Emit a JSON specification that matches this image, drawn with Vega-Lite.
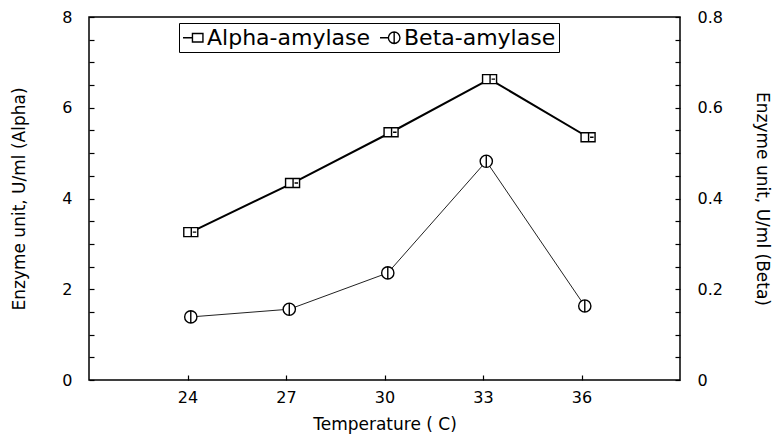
{
  "$schema": "https://vega.github.io/schema/vega-lite/v6.json",
  "width": 591,
  "height": 363,
  "autosize": {"type": "none"},
  "padding": {"left": 89, "top": 17, "right": 97, "bottom": 55},
  "background": "white",
  "config": {
    "font": "DejaVu Sans",
    "view": {"stroke": "black", "strokeWidth": 1.5},
    "axis": {"grid": false, "ticks": true, "zindex": 1, "tickColor": "black", "domainColor": "black", "tickWidth": 1.2, "labelColor": "black", "titleColor": "black", "labelFontSize": 16, "titleFontSize": 17, "titleFontWeight": "normal"}
  },
  "data": {"values": [
    {"temp": 24.1, "value": 3.26, "series": "Alpha-amylase"},
    {"temp": 27.2, "value": 4.34, "series": "Alpha-amylase"},
    {"temp": 30.2, "value": 5.46, "series": "Alpha-amylase"},
    {"temp": 33.2, "value": 6.63, "series": "Alpha-amylase"},
    {"temp": 36.2, "value": 5.35, "series": "Alpha-amylase"},
    {"temp": 24.1, "value": 0.139, "series": "Beta-amylase"},
    {"temp": 27.1, "value": 0.156, "series": "Beta-amylase"},
    {"temp": 30.1, "value": 0.236, "series": "Beta-amylase"},
    {"temp": 33.1, "value": 0.482, "series": "Beta-amylase"},
    {"temp": 36.1, "value": 0.163, "series": "Beta-amylase"}
  ]},
  "encoding": {
    "x": {"field": "temp", "type": "quantitative",
      "scale": {"domain": [21, 39], "nice": false, "zero": false},
      "axis": {"values": [24, 27, 30, 33, 36], "domain": false, "offset": -5, "tickSize": 5, "labelPadding": 9, "title": "Temperature ( C)", "titlePadding": 11}}
  },
  "layer": [
    {
      "transform": [{"filter": "datum.series == 'Alpha-amylase'"}],
      "encoding": {
        "y": {"field": "value", "type": "quantitative",
          "scale": {"domain": [0, 8], "nice": false},
          "axis": {"orient": "left", "domain": false, "offset": -5, "tickSize": 5, "values": [0,0.5,1,1.5,2,2.5,3,3.5,4,4.5,5,5.5,6,6.5,7,7.5,8], "labelExpr": "datum.value % 2 == 0 ? format(datum.value, 'd') : ''", "labelPadding": 17, "title": "Enzyme unit, U/ml (Alpha)", "titlePadding": 33}}
      },
      "layer": [
        {"mark": {"type": "line", "color": "black", "strokeWidth": 2}},
        {"mark": {"type": "point", "shape": "M-1.4,-0.9H1.4V0.9H-1.4ZM0.1,-0.9V0.9M0.4,0H1.1", "filled": false, "fill": "white", "fillOpacity": 1, "stroke": "black", "strokeWidth": 1.4, "size": 100, "opacity": 1}},
        {"mark": {"type": "point", "filled": false, "opacity": 0, "strokeWidth": 1.4},
          "encoding": {
            "shape": {"field": "series", "type": "nominal", "scale": {"domain": ["Alpha-amylase", "Beta-amylase"], "range": ["M-1,0H-0.1M-0.1,-0.4H0.9V0.4H-0.1Z", "M-1,0H-0.2M-0.2,0A0.55,0.55 0 1,0 0.9,0A0.55,0.55 0 1,0 -0.2,0M0.35,-0.55V0.55"]},
              "legend": {"orient": "none", "legendX": 90, "legendY": 6, "direction": "horizontal", "title": null, "labelFontSize": 22, "labelColor": "black", "strokeColor": "black", "padding": 3, "symbolOpacity": 1, "symbolSize": 440, "symbolStrokeWidth": 1.4, "columnPadding": 6, "labelOffset": 2, "labelLimit": 400}},
            "color": {"field": "series", "type": "nominal", "scale": {"domain": ["Alpha-amylase", "Beta-amylase"], "range": ["black", "black"]}}
          }}
      ]
    },
    {
      "transform": [{"filter": "datum.series == 'Beta-amylase'"}],
      "encoding": {
        "y": {"field": "value", "type": "quantitative",
          "scale": {"domain": [0, 0.8], "nice": false},
          "axis": {"orient": "right", "domain": false, "offset": -5, "tickSize": 5, "values": [0,0.05,0.1,0.15,0.2,0.25,0.3,0.35,0.4,0.45,0.5,0.55,0.6,0.65,0.7,0.75,0.8], "labelExpr": "abs(datum.value*5 - round(datum.value*5)) < 0.001 ? (datum.value == 0 ? '0' : format(datum.value, '.1f')) : ''", "labelPadding": 17, "title": "Enzyme unit, U/ml (Beta)", "titlePadding": 30}}
      },
      "layer": [
        {"mark": {"type": "line", "color": "#222", "strokeWidth": 1}},
        {"mark": {"type": "point", "shape": "M-1,0A1,1 0 1,0 1,0A1,1 0 1,0 -1,0ZM0,-1V1", "filled": false, "fill": "white", "fillOpacity": 1, "stroke": "black", "strokeWidth": 1.4, "size": 150, "opacity": 1}}
      ]
    }
  ],
  "resolve": {"scale": {"y": "independent"}}
}
